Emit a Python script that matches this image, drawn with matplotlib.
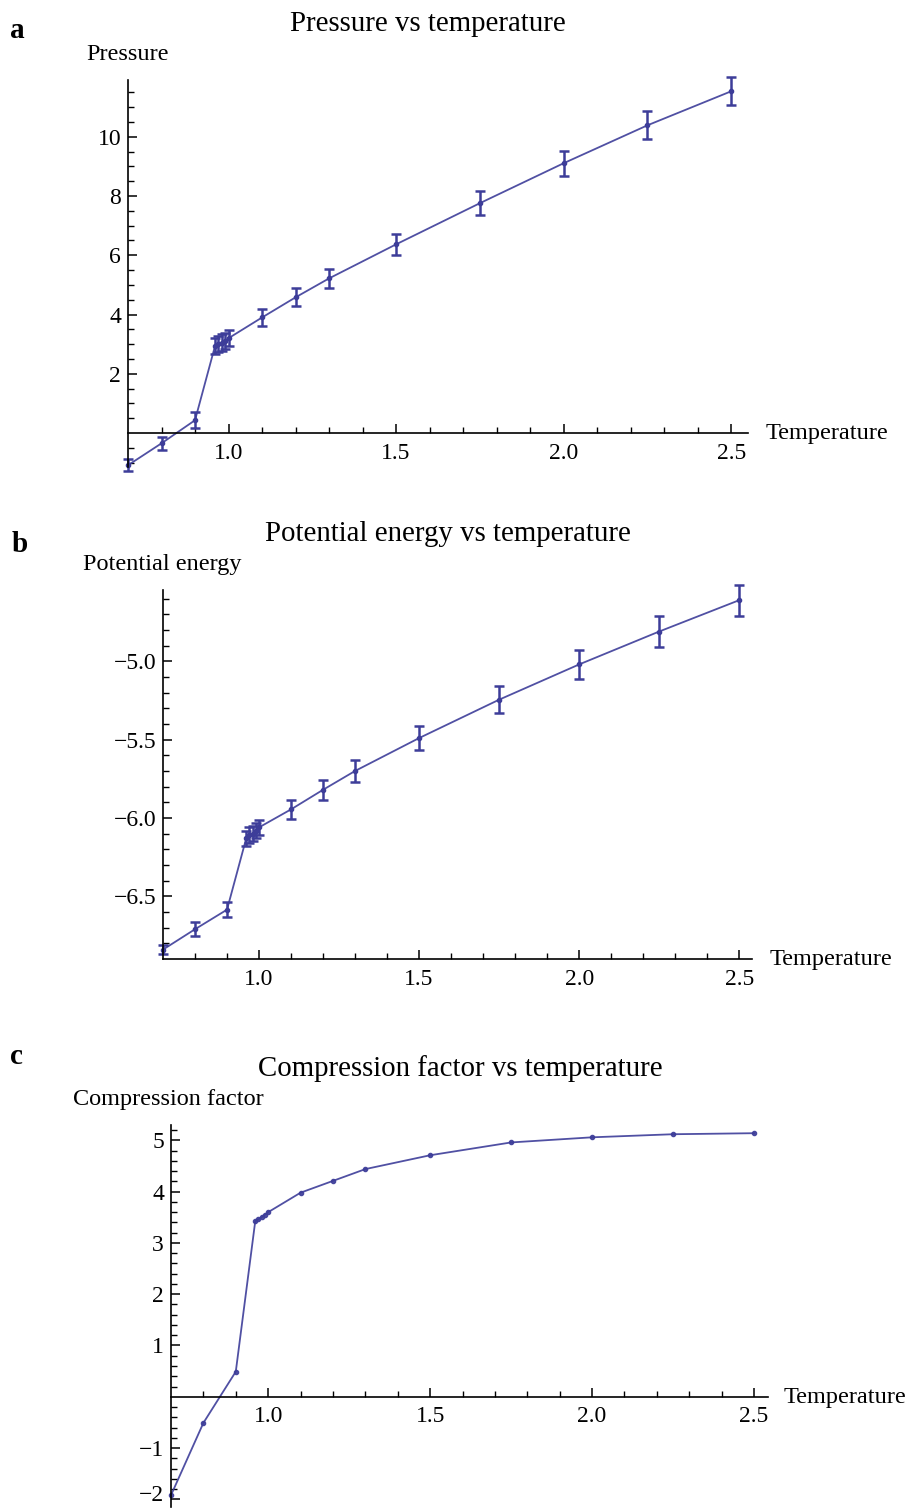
import matplotlib
matplotlib.use("Agg")
import matplotlib.pyplot as plt
from matplotlib.ticker import FixedLocator, FixedFormatter
from matplotlib.transforms import ScaledTranslation

plt.rcParams['font.family'] = ['Liberation Serif', 'DejaVu Serif']

# ---- data ----
temperature = [0.7, 0.8, 0.9, 0.96, 0.97, 0.98, 0.99, 1.0, 1.1, 1.2, 1.3, 1.5, 1.75, 2.0, 2.25, 2.5]
pressure = [-1.09, -0.35, 0.43, 2.95, 3.0, 3.05, 3.1, 3.2, 3.9, 4.58, 5.22, 6.37, 7.76, 9.11, 10.39, 11.54]
pressure_err = [0.2, 0.22, 0.27, 0.27, 0.27, 0.28, 0.28, 0.28, 0.3, 0.3, 0.33, 0.35, 0.4, 0.42, 0.47, 0.47]
energy = [-6.84, -6.71, -6.585, -6.13, -6.11, -6.10, -6.08, -6.06, -5.945, -5.82, -5.70, -5.49, -5.245, -5.02, -4.81, -4.61]
energy_err = [0.03, 0.045, 0.05, 0.05, 0.05, 0.05, 0.05, 0.05, 0.06, 0.065, 0.07, 0.075, 0.085, 0.09, 0.1, 0.1]
compression = [-1.92, -0.51, 0.49, 3.42, 3.46, 3.5, 3.55, 3.6, 3.98, 4.21, 4.44, 4.71, 4.96, 5.06, 5.12, 5.14]

x_major = [1.0, 1.5, 2.0, 2.5]
x_major_labels = ["1.0", "1.5", "2.0", "2.5"]
x_minor = [0.8, 0.9, 1.1, 1.2, 1.3, 1.4, 1.6, 1.7, 1.8, 1.9, 2.1, 2.2, 2.3, 2.4, 2.6]

a_y_major = [2, 4, 6, 8, 10]
a_y_labels = ["2", "4", "6", "8", "10"]
a_y_minor = [-1.0, -0.5, 0.5, 1.0, 1.5, 2.5, 3.0, 3.5, 4.5, 5.0, 5.5, 6.5, 7.0, 7.5, 8.5, 9.0, 9.5, 10.5, 11.0, 11.5]

b_y_major = [-6.5, -6.0, -5.5, -5.0]
b_y_labels = ["\u22126.5", "\u22126.0", "\u22125.5", "\u22125.0"]
b_y_minor = [-6.8, -6.7, -6.6, -6.4, -6.3, -6.2, -6.1, -5.9, -5.8, -5.7, -5.6, -5.4, -5.3, -5.2, -5.1,
             -4.9, -4.8, -4.7, -4.6]

c_y_major = [-2, -1, 1, 2, 3, 4, 5]
c_y_labels = ["\u22122", "\u22121", "1", "2", "3", "4", "5"]
c_y_minor = [-1.8, -1.6, -1.4, -1.2, -0.8, -0.6, -0.4, -0.2, 0.2, 0.4, 0.6, 0.8, 1.2, 1.4, 1.6, 1.8,
             2.2, 2.4, 2.6, 2.8, 3.2, 3.4, 3.6, 3.8, 4.2, 4.4, 4.6, 4.8, 5.2]

W, H = 912, 1508
COL = '#3d3d99'
TICK_FS = 17
LABEL_FS = 17.5
TITLE_FS = 20.8

fig = plt.figure(figsize=(W / 100, H / 100), dpi=100)


def make_axes(left_px, right_px, top_px, bottom_px):
    return fig.add_axes([left_px / W, 1 - bottom_px / H, (right_px - left_px) / W, (bottom_px - top_px) / H])


def style(ax, xlim, ylim, xzero, ymaj, ylab, ymin):
    ax.set_xlim(*xlim)
    ax.set_ylim(*ylim)
    ax.spines['top'].set_visible(False)
    ax.spines['right'].set_visible(False)
    ax.spines['bottom'].set_position(('data', xzero))
    for s in ('left', 'bottom'):
        ax.spines[s].set_linewidth(1.2)
    ax.xaxis.set_major_locator(FixedLocator(x_major))
    ax.xaxis.set_major_formatter(FixedFormatter(x_major_labels))
    ax.xaxis.set_minor_locator(FixedLocator(x_minor))
    ax.yaxis.set_major_locator(FixedLocator(ymaj))
    ax.yaxis.set_major_formatter(FixedFormatter(ylab))
    ax.yaxis.set_minor_locator(FixedLocator(ymin))
    ax.tick_params(which='major', direction='in', length=6.5, width=1.1, labelsize=TICK_FS)
    ax.tick_params(which='minor', direction='in', length=4, width=1.0)
    ax.tick_params(axis='x', which='major', pad=7)
    ax.tick_params(axis='y', which='major', pad=5)
    ax.patch.set_visible(False)


# ---- panel a ----
axa = make_axes(128, 748, 80, 467)
axa.plot(temperature, pressure, color=COL, lw=1.3, alpha=0.9, clip_on=False)
axa.errorbar(temperature, pressure, yerr=pressure_err, fmt='o', ms=3, color=COL, ecolor=COL,
             elinewidth=1.8, capsize=3.5, capthick=1.8, clip_on=False)
style(axa, (0.7, 2.55), (-1.15, 11.92), 0, a_y_major, a_y_labels, a_y_minor)

# ---- panel b ----
axb = make_axes(163, 752, 590, 959)
axb.plot(temperature, energy, color=COL, lw=1.3, alpha=0.9, clip_on=False)
axb.errorbar(temperature, energy, yerr=energy_err, fmt='o', ms=3, color=COL, ecolor=COL,
             elinewidth=1.8, capsize=3.5, capthick=1.8, clip_on=False)
style(axb, (0.7, 2.54), (-6.9, -4.545), -6.9, b_y_major, b_y_labels, b_y_minor)

# ---- panel c ----
axc = make_axes(171, 768, 1125, 1507)
axc.plot(temperature, compression, color=COL, lw=1.3, marker='o', ms=3, alpha=0.9, clip_on=False)
style(axc, (0.7, 2.543), (-2.15, 5.3), 0, c_y_major, c_y_labels, c_y_minor)

# nudge the bottom label of panel c up so it stays inside the picture
fig.canvas.draw()
for lbl in axc.get_yticklabels():
    if lbl.get_text() == "\u22122":
        lbl.set_transform(lbl.get_transform() + ScaledTranslation(0, 6 / 100, fig.dpi_scale_trans))

# ---- texts ----
def ftext(xp, yp, s, **kw):
    fig.text(xp / W, 1 - yp / H, s, **kw)

ftext(428, 24, "Pressure vs temperature", ha='center', va='center', fontsize=TITLE_FS)
ftext(448, 534, "Potential energy vs temperature", ha='center', va='center', fontsize=TITLE_FS)
ftext(460, 1069, "Compression factor vs temperature", ha='center', va='center', fontsize=TITLE_FS)

ftext(128, 54, "Pressure", ha='center', va='center', fontsize=LABEL_FS)
ftext(162, 565, "Potential energy", ha='center', va='center', fontsize=LABEL_FS)
ftext(168, 1100, "Compression factor", ha='center', va='center', fontsize=LABEL_FS)

ftext(766, 434, "Temperature", ha='left', va='center', fontsize=LABEL_FS)
ftext(770, 960, "Temperature", ha='left', va='center', fontsize=LABEL_FS)
ftext(784, 1398, "Temperature", ha='left', va='center', fontsize=LABEL_FS)

ftext(10, 30, "a", ha='left', va='center', fontsize=21, fontweight='bold')
ftext(12, 545, "b", ha='left', va='center', fontsize=21, fontweight='bold')
ftext(10, 1057, "c", ha='left', va='center', fontsize=21, fontweight='bold')

fig.savefig("out.png", dpi=100)
